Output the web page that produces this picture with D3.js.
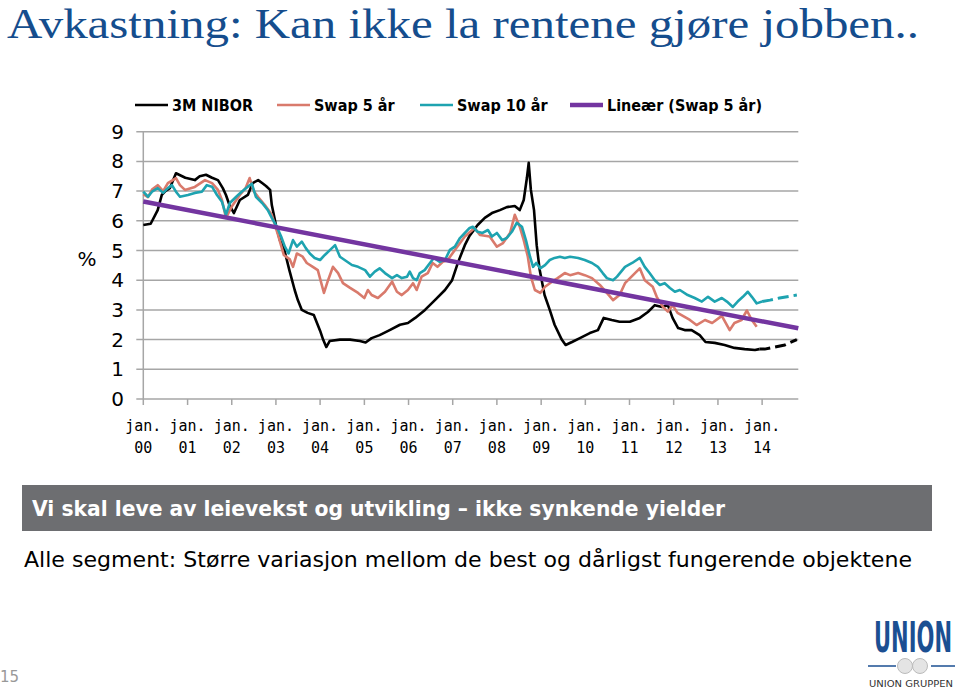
<!DOCTYPE html>
<html>
<head>
<meta charset="utf-8">
<script src="https://cdn.jsdelivr.net/npm/d3@7/dist/d3.min.js"></script>
<style>
  body { margin: 0; background: #fff; }
  svg { display: block; }
</style>
</head>
<body>
<script>
// rates (per cent)
const seriesNames = ["3M NIBOR", "Swap 5 år", "Swap 10 år", "Lineær (Swap 5 år)"];
const yTicks = [0, 1, 2, 3, 4, 5, 6, 7, 8, 9];
const tickYears = ["2000", "2001", "2002", "2003", "2004", "2005", "2006", "2007", "2008", "2009", "2010", "2011", "2012", "2013", "2014"];
const tickLabels = ["00", "01", "02", "03", "04", "05", "06", "07", "08", "09", "10", "11", "12", "13", "14"];
const axisEnd = "2014-10-27";

const nibor = [
    ["2000-01-01", 5.86], ["2000-03-02", 5.9], ["2000-04-29", 6.36], ["2000-06-02", 6.87], ["2000-07-01", 7.0],
    ["2000-08-07", 7.1], ["2000-09-27", 7.6], ["2000-12-13", 7.45], ["2001-03-02", 7.37], ["2001-04-11", 7.5],
    ["2001-06-02", 7.55], ["2001-07-22", 7.45], ["2001-09-09", 7.37], ["2001-10-19", 7.1], ["2001-11-14", 6.87],
    ["2001-12-16", 6.5], ["2002-01-19", 6.26], ["2002-03-09", 6.7], ["2002-05-14", 6.87], ["2002-06-23", 7.27],
    ["2002-08-07", 7.37], ["2002-09-09", 7.27], ["2002-10-11", 7.17], ["2002-11-14", 7.04], ["2002-11-28", 6.53],
    ["2003-01-01", 5.86], ["2003-02-03", 5.35], ["2003-03-13", 5.0], ["2003-04-22", 4.34], ["2003-06-05", 3.67],
    ["2003-07-01", 3.33], ["2003-08-03", 3.0], ["2003-09-20", 2.9], ["2003-11-10", 2.83], ["2004-01-01", 2.3],
    ["2004-01-26", 2.0], ["2004-02-21", 1.75], ["2004-03-20", 1.95], ["2004-06-13", 2.0], ["2004-09-05", 2.0],
    ["2004-11-25", 1.95], ["2005-01-11", 1.9], ["2005-03-02", 2.05], ["2005-05-07", 2.15], ["2005-07-29", 2.32],
    ["2005-10-22", 2.5], ["2005-12-27", 2.56], ["2006-02-25", 2.73], ["2006-05-17", 3.0], ["2006-08-07", 3.33],
    ["2006-10-29", 3.67], ["2006-12-27", 4.0], ["2007-02-14", 4.6], ["2007-04-11", 5.18], ["2007-05-21", 5.5],
    ["2007-07-26", 5.86], ["2007-09-23", 6.1], ["2007-11-21", 6.26], ["2008-01-26", 6.36], ["2008-03-23", 6.46],
    ["2008-05-28", 6.5], ["2008-07-08", 6.36], ["2008-08-10", 6.7], ["2008-09-05", 7.44], ["2008-09-20", 7.95],
    ["2008-10-08", 7.04], ["2008-11-03", 6.36], ["2008-11-25", 5.18], ["2008-12-20", 4.34], ["2009-01-29", 3.5],
    ["2009-03-13", 3.0], ["2009-04-22", 2.5], ["2009-06-20", 2.0], ["2009-07-22", 1.82], ["2009-09-13", 1.92],
    ["2009-11-17", 2.05], ["2010-02-07", 2.22], ["2010-04-15", 2.32], ["2010-06-02", 2.73], ["2010-08-07", 2.66],
    ["2010-10-11", 2.6], ["2011-01-04", 2.6], ["2011-03-27", 2.73], ["2011-06-02", 2.93], ["2011-07-29", 3.16],
    ["2011-09-27", 3.1], ["2011-11-14", 3.16], ["2011-12-23", 2.73], ["2012-02-07", 2.39], ["2012-04-01", 2.32],
    ["2012-05-28", 2.32], ["2012-08-03", 2.15], ["2012-09-20", 1.92], ["2012-12-05", 1.89], ["2013-02-25", 1.82],
    ["2013-05-17", 1.72], ["2013-08-10", 1.68], ["2013-11-03", 1.65], ["2013-12-09", 1.68]
];
const niborForward = [
    ["2013-12-09", 1.68], ["2014-01-22", 1.68], ["2014-04-15", 1.75], ["2014-07-08", 1.82], ["2014-10-15", 2.0]
];

const swap5 = [
    ["2000-01-01", 6.9], ["2000-02-09", 6.8], ["2000-03-13", 7.05], ["2000-04-29", 7.2], ["2000-06-13", 7.0],
    ["2000-07-22", 7.27], ["2000-09-27", 7.44], ["2000-10-30", 7.2], ["2000-12-10", 7.04], ["2001-03-02", 7.14],
    ["2001-05-25", 7.37], ["2001-07-22", 7.27], ["2001-09-09", 7.04], ["2001-10-12", 6.7], ["2001-11-14", 6.1],
    ["2002-01-04", 6.5], ["2002-03-09", 6.87], ["2002-04-25", 7.1], ["2002-05-29", 7.44], ["2002-07-01", 7.0],
    ["2002-08-07", 6.8], ["2002-10-01", 6.53], ["2002-11-28", 6.2], ["2003-01-19", 5.52], ["2003-03-07", 4.85],
    ["2003-04-26", 4.7], ["2003-05-22", 4.45], ["2003-06-23", 4.9], ["2003-08-10", 4.79], ["2003-09-13", 4.58],
    ["2003-11-02", 4.45], ["2003-12-13", 4.34], ["2004-02-02", 3.57], ["2004-03-07", 4.0], ["2004-04-16", 4.45],
    ["2004-05-29", 4.24], ["2004-07-08", 3.9], ["2004-09-05", 3.74], ["2004-11-10", 3.57], ["2005-01-01", 3.4],
    ["2005-01-30", 3.67], ["2005-03-02", 3.5], ["2005-04-23", 3.4], ["2005-06-20", 3.61], ["2005-08-18", 3.95],
    ["2005-09-27", 3.61], ["2005-11-06", 3.5], ["2005-12-27", 3.67], ["2006-02-07", 3.9], ["2006-03-09", 3.67],
    ["2006-04-19", 4.12], ["2006-06-09", 4.24], ["2006-07-19", 4.58], ["2006-08-28", 4.45], ["2006-10-11", 4.62],
    ["2006-11-21", 4.68], ["2007-01-19", 5.02], ["2007-04-11", 5.47], ["2007-07-01", 5.76], ["2007-08-14", 5.52],
    ["2007-11-03", 5.47], ["2008-01-01", 5.13], ["2008-02-21", 5.25], ["2008-04-19", 5.59], ["2008-05-28", 6.2],
    ["2008-07-08", 5.8], ["2008-08-10", 5.35], ["2008-09-13", 4.79], ["2008-10-08", 4.12], ["2008-11-10", 3.67],
    ["2008-12-24", 3.57], ["2009-02-02", 3.78], ["2009-04-01", 3.95], ["2009-05-17", 4.07], ["2009-07-15", 4.24],
    ["2009-08-28", 4.17], ["2009-11-03", 4.24], ["2009-12-27", 4.17], ["2010-02-25", 4.07], ["2010-05-01", 3.84],
    ["2010-06-28", 3.57], ["2010-08-18", 3.33], ["2010-10-11", 3.5], ["2010-11-25", 3.9], ["2011-01-30", 4.17],
    ["2011-03-27", 4.4], ["2011-05-07", 4.0], ["2011-07-12", 3.78], ["2011-08-14", 3.44], ["2011-10-04", 3.1],
    ["2011-11-14", 2.94], ["2011-12-23", 3.16], ["2012-02-02", 2.9], ["2012-05-14", 2.66], ["2012-07-08", 2.49],
    ["2012-09-16", 2.66], ["2012-11-14", 2.56], ["2013-02-02", 2.8], ["2013-04-08", 2.32], ["2013-05-17", 2.56],
    ["2013-07-15", 2.66], ["2013-08-28", 2.98], ["2013-10-08", 2.66], ["2013-11-17", 2.43]
];

const swap10 = [
    ["2000-01-01", 6.98], ["2000-02-09", 6.81], ["2000-03-13", 6.98], ["2000-04-29", 7.1], ["2000-06-13", 6.94],
    ["2000-07-22", 7.1], ["2000-08-25", 7.2], ["2000-09-27", 6.98], ["2000-10-30", 6.81], ["2001-01-04", 6.87],
    ["2001-03-02", 6.94], ["2001-04-29", 6.98], ["2001-06-09", 7.2], ["2001-07-22", 7.15], ["2001-09-01", 6.87],
    ["2001-10-12", 6.64], ["2001-11-14", 6.2], ["2001-12-16", 6.6], ["2002-02-07", 6.81], ["2002-03-24", 6.98],
    ["2002-05-14", 7.15], ["2002-06-16", 7.25], ["2002-07-19", 6.81], ["2002-09-09", 6.6], ["2002-10-26", 6.36],
    ["2002-11-28", 6.1], ["2003-01-08", 5.8], ["2003-02-13", 5.47], ["2003-03-16", 5.13], ["2003-04-15", 4.9],
    ["2003-05-22", 5.35], ["2003-06-23", 5.13], ["2003-08-03", 5.3], ["2003-09-05", 5.08], ["2003-10-08", 4.9],
    ["2003-11-17", 4.75], ["2004-01-01", 4.68], ["2004-02-09", 4.85], ["2004-03-24", 5.02], ["2004-05-04", 5.18],
    ["2004-06-13", 4.79], ["2004-07-22", 4.68], ["2004-09-20", 4.51], ["2004-11-10", 4.45], ["2005-01-07", 4.34],
    ["2005-02-16", 4.12], ["2005-03-28", 4.29], ["2005-05-07", 4.4], ["2005-06-20", 4.24], ["2005-08-18", 4.07],
    ["2005-09-27", 4.17], ["2005-11-06", 4.07], ["2005-12-20", 4.12], ["2006-01-11", 4.29], ["2006-02-07", 4.07],
    ["2006-03-09", 4.0], ["2006-04-04", 4.24], ["2006-05-14", 4.34], ["2006-06-27", 4.58], ["2006-07-29", 4.75],
    ["2006-09-16", 4.62], ["2006-10-29", 4.68], ["2006-12-09", 5.02], ["2007-01-19", 5.13], ["2007-03-02", 5.42],
    ["2007-04-11", 5.59], ["2007-05-21", 5.76], ["2007-06-16", 5.8], ["2007-07-26", 5.63], ["2007-09-05", 5.59],
    ["2007-10-19", 5.69], ["2007-11-21", 5.47], ["2008-01-01", 5.59], ["2008-02-14", 5.35], ["2008-03-23", 5.42],
    ["2008-05-04", 5.63], ["2008-06-13", 5.93], ["2008-07-26", 5.8], ["2008-08-28", 5.35], ["2008-10-01", 4.79],
    ["2008-10-26", 4.45], ["2008-11-21", 4.58], ["2008-12-24", 4.4], ["2009-02-02", 4.51], ["2009-03-13", 4.68],
    ["2009-04-22", 4.75], ["2009-06-05", 4.79], ["2009-07-15", 4.75], ["2009-08-28", 4.79], ["2009-11-03", 4.75],
    ["2009-12-27", 4.68], ["2010-02-25", 4.58], ["2010-04-15", 4.45], ["2010-05-25", 4.24], ["2010-06-28", 4.07],
    ["2010-08-18", 4.0], ["2010-09-20", 4.12], ["2010-11-25", 4.45], ["2011-01-23", 4.58], ["2011-03-27", 4.75],
    ["2011-05-07", 4.45], ["2011-06-16", 4.24], ["2011-07-29", 4.0], ["2011-09-09", 3.84], ["2011-10-19", 3.9],
    ["2011-12-01", 3.74], ["2012-01-11", 3.61], ["2012-02-21", 3.67], ["2012-04-26", 3.5], ["2012-06-23", 3.4],
    ["2012-08-21", 3.28], ["2012-10-11", 3.44], ["2012-12-05", 3.28], ["2013-02-02", 3.4], ["2013-03-16", 3.28],
    ["2013-05-04", 3.1], ["2013-06-13", 3.28], ["2013-07-26", 3.44], ["2013-09-05", 3.61], ["2013-10-08", 3.44],
    ["2013-11-17", 3.22], ["2014-01-01", 3.28]
];
const swap10Forward = [
    ["2014-01-01", 3.28], ["2014-03-07", 3.33], ["2014-05-25", 3.4], ["2014-10-15", 3.5]
];

// trend line (Excel linear fit on Swap 5 år), endpoints
const trend = [["2000-01-01", 6.65], ["2014-10-27", 2.38]];

const width = 959, height = 688;
const parse = d3.timeParse("%Y-%m-%d");

const svg = d3.select("body").append("svg")
    .attr("width", width)
    .attr("height", height)
    .style("background", "#fff");

const x = d3.scaleTime()
    .domain([parse("2000-01-01"), parse(axisEnd)])
    .range([143.3, 798.3]);

const y = d3.scaleLinear()
    .domain([0, 9])
    .range([399, 131.7]);

// title
svg.append("text")
    .attr("x", 7)
    .attr("y", 37.5)
    .attr("fill", "#154d8d")
    .attr("textLength", 912)
    .attr("lengthAdjust", "spacingAndGlyphs")
    .style("font", "42px 'Liberation Serif', 'DejaVu Serif', serif")
    .text("Avkastning: Kan ikke la rentene gjøre jobben..");

// grid
const grid = svg.append("g");
grid.selectAll("line")
    .data(yTicks)
    .join("line")
    .attr("x1", x.range()[0] - 7)
    .attr("x2", x.range()[1])
    .attr("y1", d => y(d))
    .attr("y2", d => y(d))
    .attr("stroke", "#a6a6a6")
    .attr("stroke-width", 1.5);

grid.append("line")
    .attr("x1", x.range()[0])
    .attr("x2", x.range()[0])
    .attr("y1", y(9))
    .attr("y2", y(0))
    .attr("stroke", "#a6a6a6")
    .attr("stroke-width", 1.5);

const tickDates = tickYears.map(d => parse(d + "-01-01"));

grid.selectAll(".xtick")
    .data(tickDates)
    .join("line")
    .attr("class", "xtick")
    .attr("x1", d => x(d))
    .attr("x2", d => x(d))
    .attr("y1", y(0))
    .attr("y2", y(0) + 6)
    .attr("stroke", "#a6a6a6")
    .attr("stroke-width", 1.5);

// y labels
svg.append("g")
    .style("font", "20px 'DejaVu Sans', sans-serif")
    .attr("text-anchor", "end")
    .selectAll("text")
    .data(yTicks)
    .join("text")
    .attr("x", 124)
    .attr("y", d => y(d) + 7)
    .text(d => d);

svg.append("text")
    .attr("x", 87)
    .attr("y", 266)
    .attr("text-anchor", "middle")
    .style("font", "20px 'DejaVu Sans', sans-serif")
    .text("%");

// x labels
const xl = svg.append("g")
    .style("font", "15px 'DejaVu Sans Mono', monospace")
    .attr("text-anchor", "middle")
    .selectAll("g")
    .data(tickDates)
    .join("g")
    .attr("transform", d => `translate(${x(d)},0)`);
xl.append("text").attr("y", 431).text("jan.");
xl.append("text").attr("y", 453).text((d, i) => tickLabels[i]);

// lines
const line = d3.line()
    .x(d => x(parse(d[0])))
    .y(d => y(d[1]));

const plot = svg.append("g").attr("fill", "none").attr("stroke-linejoin", "round");

plot.append("path").datum(nibor).attr("d", line)
    .attr("stroke", "#000").attr("stroke-width", 2.6);
plot.append("path").datum(niborForward).attr("d", line)
    .attr("stroke", "#000").attr("stroke-width", 3).attr("stroke-dasharray", "11,5");
plot.append("path").datum(swap5).attr("d", line)
    .attr("stroke", "#d97a6c").attr("stroke-width", 2.6);
plot.append("path").datum(swap10).attr("d", line)
    .attr("stroke", "#1ea3b0").attr("stroke-width", 2.6);
plot.append("path").datum(swap10Forward).attr("d", line)
    .attr("stroke", "#1ea3b0").attr("stroke-width", 3).attr("stroke-dasharray", "11,5");
plot.append("path").datum(trend).attr("d", line)
    .attr("stroke", "#7335a0").attr("stroke-width", 4.5);

// legend
const legendColors = ["#000", "#d97a6c", "#1ea3b0", "#7335a0"];
const legendX = [135, 277, 420, 570];
const leg = svg.append("g")
    .selectAll("g")
    .data(seriesNames)
    .join("g")
    .attr("transform", (d, i) => `translate(${legendX[i]},105)`);
leg.append("line")
    .attr("x1", 0).attr("x2", 33)
    .attr("stroke", (d, i) => legendColors[i])
    .attr("stroke-width", (d, i) => i === 3 ? 4.5 : 2.6);
leg.append("text")
    .attr("x", 37)
    .attr("y", 6)
    .style("font", "bold 16px 'DejaVu Sans Condensed', 'DejaVu Sans', sans-serif")
    .text(d => d);

// banner + notes
svg.append("rect")
    .attr("x", 22).attr("y", 485)
    .attr("width", 910).attr("height", 46)
    .attr("fill", "#6d6e71");
svg.append("text")
    .attr("x", 32).attr("y", 516)
    .attr("fill", "#fff")
    .attr("textLength", 693)
    .attr("lengthAdjust", "spacingAndGlyphs")
    .style("font", "bold 21px 'DejaVu Sans', sans-serif")
    .text("Vi skal leve av leievekst og utvikling – ikke synkende yielder");
svg.append("text")
    .attr("x", 24).attr("y", 567)
    .attr("fill", "#000")
    .attr("textLength", 888)
    .attr("lengthAdjust", "spacingAndGlyphs")
    .style("font", "22px 'DejaVu Sans', sans-serif")
    .text("Alle segment: Større variasjon mellom de best og dårligst fungerende objektene");

// page number
svg.append("text")
    .attr("x", 0).attr("y", 682)
    .attr("fill", "#999")
    .style("font", "15px 'DejaVu Sans', sans-serif")
    .text("15");

// logo
const logo = svg.append("g");
logo.append("text")
    .attr("transform", "translate(874,652) scale(1,1.8)")
    .attr("fill", "#1b4f92")
    .attr("textLength", 78)
    .attr("lengthAdjust", "spacingAndGlyphs")
    .style("font", "bold 24px 'DejaVu Sans Condensed', sans-serif")
    .text("UNION");
logo.append("line").attr("x1", 868).attr("x2", 896).attr("y1", 666).attr("y2", 666)
    .attr("stroke", "#1b4f92").attr("stroke-width", 1.5);
logo.append("line").attr("x1", 931).attr("x2", 955).attr("y1", 666).attr("y2", 666)
    .attr("stroke", "#1b4f92").attr("stroke-width", 1.5);
logo.selectAll("circle")
    .data([905, 920])
    .join("circle")
    .attr("cx", d => d).attr("cy", 666).attr("r", 7.5)
    .attr("fill", "#e4e4e4").attr("stroke", "#bbb");
logo.append("text")
    .attr("x", 869).attr("y", 687)
    .attr("fill", "#333")
    .attr("textLength", 84)
    .attr("lengthAdjust", "spacingAndGlyphs")
    .style("font", "9px 'DejaVu Sans', sans-serif")
    .text("UNION GRUPPEN");
</script>
</body>
</html>
